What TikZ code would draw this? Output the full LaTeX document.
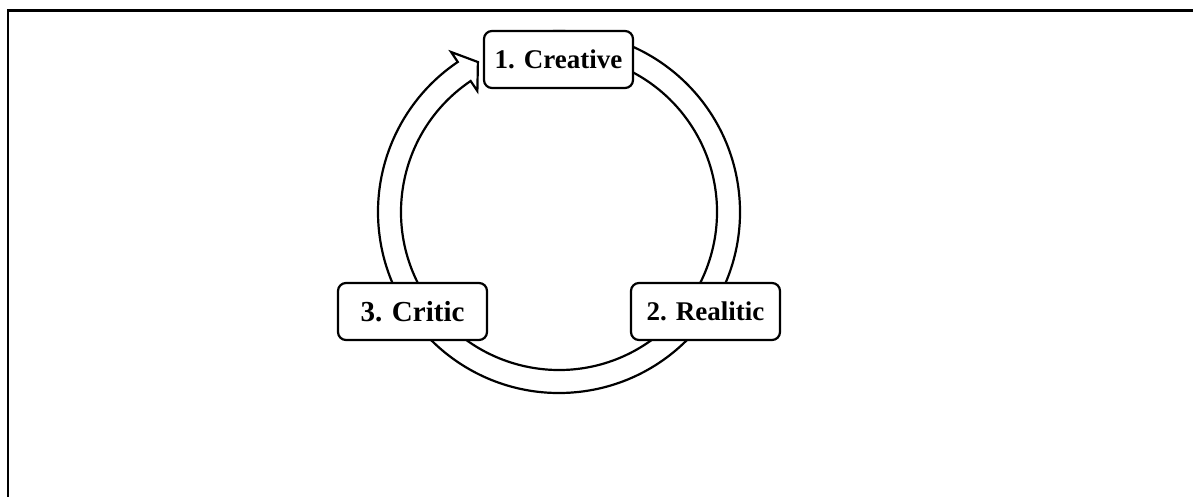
\documentclass[tikz,border=0pt]{standalone}
\usepackage{fontspec}
\setmainfont{Liberation Serif}
\begin{document}
\begin{tikzpicture}[x=1pt,y=1pt,
  stagebox/.style={draw=black, fill=white, line width=2.2pt, rounded corners=8pt,
    minimum width=149pt, minimum height=57pt, inner sep=0pt,
    font=\fontsize{27}{30}\selectfont\bfseries},
  ring/.style={draw=black, fill=white, line width=2.2pt, line join=miter}]
  \useasboundingbox (0,0) rectangle (1193,-497);
  \clip (0,0) rectangle (1193,-497);
  % page frame
  \draw[line width=2.5pt] (8,-600) -- (8,-10.5) -- (1300,-10.5);

  % cycle arrow (double-outlined ring ending in an open arrowhead)
  \begin{scope}[shift={(559,-212)}]
    \coordinate (ringc) at (0,0);
    \draw[ring]
      (95:181) arc[start angle=95, end angle=-236, radius=181]
      -- (-236:193) -- (-241.6:170.5) -- (-236:146)
      -- (-236:158) arc[start angle=-236, end angle=95, radius=158]
      -- cycle;
  \end{scope}

  % stages
  \node[stagebox] (creative) at (558.5,-59.5) {1. Creative};
  \node[stagebox] (realitic) at (705.5,-311.5) {2. Realitic};
  \node[stagebox, font=\fontsize{29}{32}\selectfont\bfseries] (critic) at (412.5,-311.5) {3. Critic};
\end{tikzpicture}
\end{document}
